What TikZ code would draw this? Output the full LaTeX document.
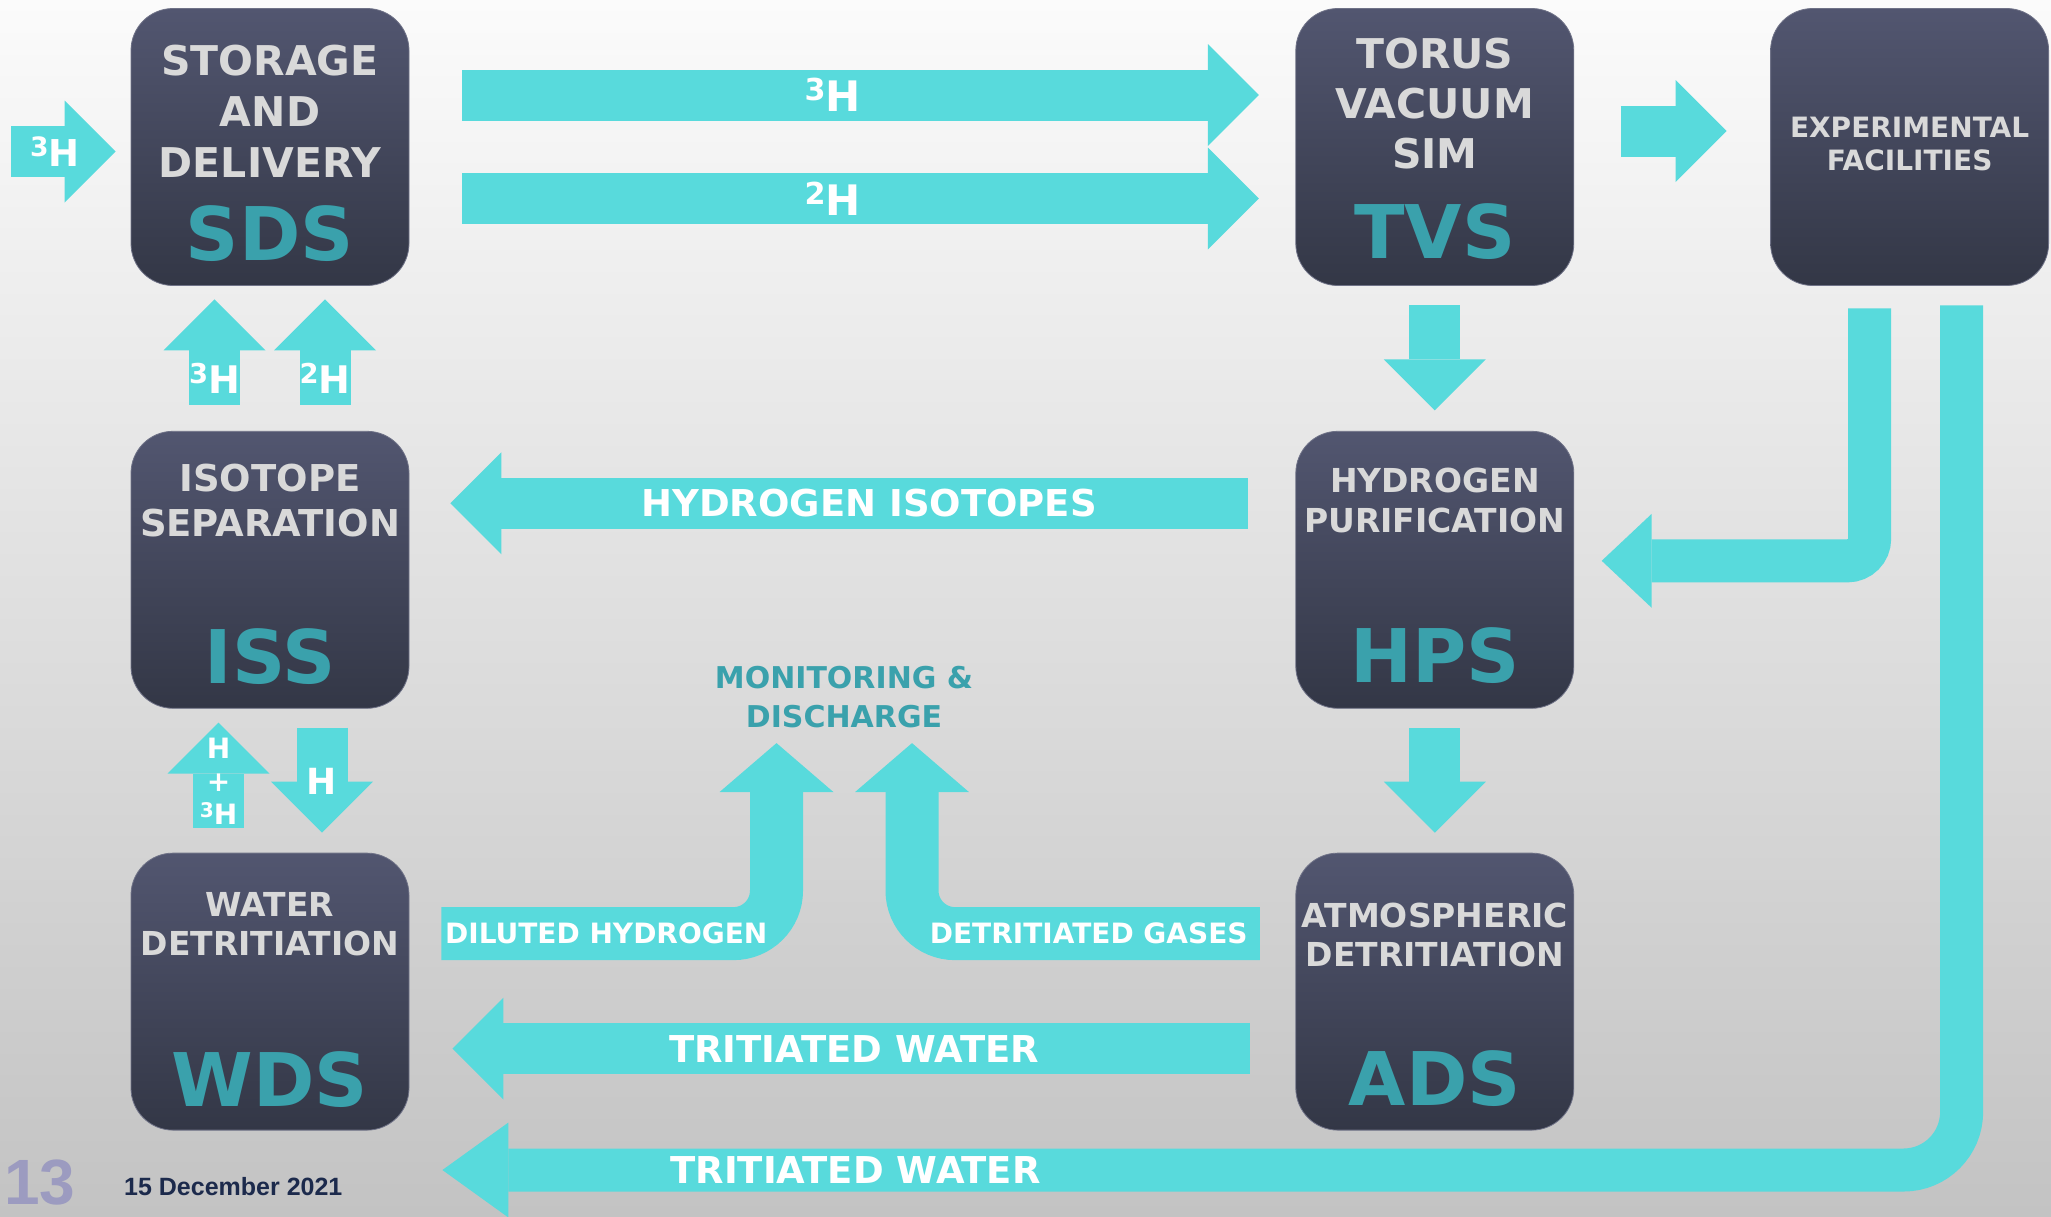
\documentclass[tikz,border=0pt]{standalone}
\usepackage{graphicx}
\usepackage{fontspec}
\setmainfont{DejaVu Sans}
\newfontfamily\footfont{Liberation Sans}
\usetikzlibrary{arrows.meta,positioning}

\definecolor{bgtop}{HTML}{FBFBFB}
\definecolor{bgbot}{HTML}{C3C3C3}
\definecolor{boxtop}{HTML}{525670}
\definecolor{boxbot}{HTML}{333746}
\definecolor{boxedge}{HTML}{6F7287}
\definecolor{boxtext}{HTML}{D9D9D9}
\definecolor{abbrcol}{HTML}{3AA1AC}
\definecolor{flowcol}{HTML}{58DADC}
\definecolor{datecol}{HTML}{1C2A4C}
\definecolor{pagecol}{HTML}{9C9BC0}

\newcommand{\iso}[1]{\raisebox{0.26em}{\scalebox{0.72}{#1}}H}

\begin{document}
\begin{tikzpicture}[
        x=1pt, y=-1pt,
        node distance=145pt and 886pt,
        % cajas de los sistemas
        sysbox/.style={rectangle, rounded corners=42pt, minimum width=278pt, minimum height=277pt, top color=boxtop, bottom color=boxbot, draw=boxedge, line width=0.8pt},
        title/.style 2 args={anchor=north, inner sep=0pt, align=center, text=boxtext, font=\bfseries\fontsize{#1}{#2}\selectfont},
        abbr/.style={anchor=north, inner sep=0pt, text=abbrcol, font=\bfseries\fontsize{74}{74}\selectfont},
        monitor/.style={anchor=north, inner sep=0pt, align=center, text=abbrcol, font=\bfseries\fontsize{30}{39}\selectfont},
        % flechas gruesas
        flow/.style={draw=flowcol, line width=51pt, -{Triangle[width=102pt, length=51pt, line width=0pt]}},
        pipe/.style={draw=flowcol, line width=43pt, -{Triangle[width=94pt, length=50pt, line width=0pt]}},
        riser/.style={draw=flowcol, line width=53pt, rounded corners=43pt, -{Triangle[width=114pt, length=49pt, line width=0pt]}},
        flowlabel/.style={inner sep=0pt, text=white, font=\bfseries\fontsize{#1}{#1}\selectfont}
    ]

    % Fondo
    \useasboundingbox (0,0) rectangle (2051,1216);
    \shade[top color=bgtop, bottom color=bgbot] (0,0) rectangle (2051,1216);

    % Cajas
    \node[sysbox] (sds) at (270,147) {};
    \node[sysbox] (iss) [below=145pt of sds] {};
    \node[sysbox] (wds) [below=144pt of iss] {};
    \node[sysbox] (tvs) [right=886pt of sds] {};
    \node[sysbox] (hps) [below=145pt of tvs] {};
    \node[sysbox] (ads) [below=144pt of hps] {};
    \node[sysbox] (exp) [right=196pt of tvs] {};

    % Textos de las cajas
    \node[title={41}{51}] (sdsname) at ([yshift=-36.5pt]sds.north) {STORAGE\\AND\\DELIVERY};
    \node[abbr] (sdsabbr) at ([yshift=-197pt]sds.north) {SDS};
    \node[title={41}{50}] (tvsname) at ([yshift=-29.5pt]tvs.north) {TORUS\\VACUUM\\SIM};
    \node[abbr] (tvsabbr) at ([yshift=-195pt]tvs.north) {TVS};
    \node[title={28}{33}] (expname) at ([yshift=-108.5pt]exp.north) {EXPERIMENTAL\\FACILITIES};
    \node[title={37}{45}] (issname) at ([yshift=-32.5pt]iss.north) {ISOTOPE\\SEPARATION};
    \node[abbr] (issabbr) at ([yshift=-197pt]iss.north) {ISS};
    \node[title={33}{40}] (hpsname) at ([yshift=-36.5pt]hps.north) {HYDROGEN\\PURIFICATION};
    \node[abbr] (hpsabbr) at ([yshift=-196pt]hps.north) {HPS};
    \node[title={33}{39}] (wdsname) at ([yshift=-40pt]wds.north) {WATER\\DETRITIATION};
    \node[abbr] (wdsabbr) at ([yshift=-199pt]wds.north) {WDS};
    \node[title={33}{39}] (adsname) at ([yshift=-50pt]ads.north) {ATMOSPHERIC\\DETRITIATION};
    \node[abbr] (adsabbr) at ([yshift=-198pt]ads.north) {ADS};

    \node[monitor] (monitor) at (844,666) {MONITORING \&\\DISCHARGE};

    % Entrada de tritio
    \coordinate (inlet) at (11,151.5);
    \draw[flow] (inlet) -- node[flowlabel={37}, pos=0.42] {\iso{3}} ([xshift=-15pt,yshift=-4.5pt]sds.west);

    % SDS -> TVS -> EXP
    \draw[flow] ([xshift=53pt,yshift=52pt]sds.east) -- node[flowlabel={42}, pos=0.465] {\iso{3}} ([xshift=-36.5pt,yshift=52pt]tvs.west);
    \draw[flow] ([xshift=53pt,yshift=-51.5pt]sds.east) -- node[flowlabel={42}, pos=0.465] {\iso{2}} ([xshift=-36.5pt,yshift=-51.5pt]tvs.west);
    \draw[flow] ([xshift=46.5pt,yshift=16pt]tvs.east) -- ([xshift=-43.5pt,yshift=16pt]exp.west);

    % Bajadas de la columna derecha
    \draw[flow] ([yshift=-19.5pt]tvs.south) -- ([yshift=20.5pt]hps.north);
    \draw[flow] ([yshift=-19.5pt]hps.south) -- ([yshift=20pt]ads.north);
    \draw[pipe, rounded corners=22pt] ([xshift=-40pt,yshift=-22.5pt]exp.south) |- ([xshift=27.5pt,yshift=9pt]hps.east);
    \draw[pipe, rounded corners=58pt, -{Triangle[width=95pt, length=66pt, line width=0pt]}] ([xshift=52pt,yshift=-19.5pt]exp.south) |- node[flowlabel={37}, pos=0.864] {TRITIATED WATER} ([xshift=33pt,yshift=-39.5pt]wds.south east);

    % Retornos hacia la izquierda
    \draw[flow] ([xshift=-47.5pt,yshift=66.5pt]hps.west) -- node[flowlabel={37}, pos=0.475] {HYDROGEN ISOTOPES} ([xshift=41pt,yshift=66.5pt]iss.east);
    \draw[flow] ([xshift=-45.5pt,yshift=-57pt]ads.west) -- node[flowlabel={37}, pos=0.496] {TRITIATED WATER} ([xshift=43pt,yshift=-57pt]wds.east);

    % Columna izquierda
    \draw[flow] ([xshift=-55.5pt,yshift=26pt]iss.north) -- node[flowlabel={38}, pos=0.25] {\iso{3}} ([xshift=-55.5pt,yshift=-13.5pt]sds.south);
    \draw[flow] ([xshift=55pt,yshift=26pt]iss.north) -- node[flowlabel={38}, pos=0.25] {\iso{2}} ([xshift=55pt,yshift=-13.5pt]sds.south);
    \draw[flow] ([xshift=-51.5pt,yshift=25pt]wds.north) -- node[flowlabel={28}, align=center, font=\bfseries\fontsize{28}{33}\selectfont, pos=0.44] {H\\+\\\iso{3}} ([xshift=-51.5pt,yshift=-14pt]iss.south);
    \draw[flow] ([xshift=52pt,yshift=-19pt]iss.south) -- node[flowlabel={36}, pos=0.514] {H} ([xshift=52pt,yshift=20pt]wds.north);

    % Hacia monitorizacion
    \draw[riser] ([xshift=32pt,yshift=58pt]wds.east) -| node[flowlabel={28}, pos=0.246] {DILUTED HYDROGEN} ([xshift=-67.5pt,yshift=-15pt]monitor.south);
    \draw[riser] ([xshift=-35.5pt,yshift=58pt]ads.west) -| node[flowlabel={28}, pos=0.246] {DETRITIATED GASES} ([xshift=68pt,yshift=-15pt]monitor.south);

    % Pie
    \node[anchor=base west, inner sep=0pt, text=pagecol, font=\footfont\bfseries\fontsize{64}{64}\selectfont] (pagenum) at (4,1204) {13};
    \node[anchor=base west, inner sep=0pt, text=datecol, font=\footfont\bfseries\fontsize{25}{25}\selectfont] (date) at (124,1195) {15 December 2021};

\end{tikzpicture}
\end{document}
